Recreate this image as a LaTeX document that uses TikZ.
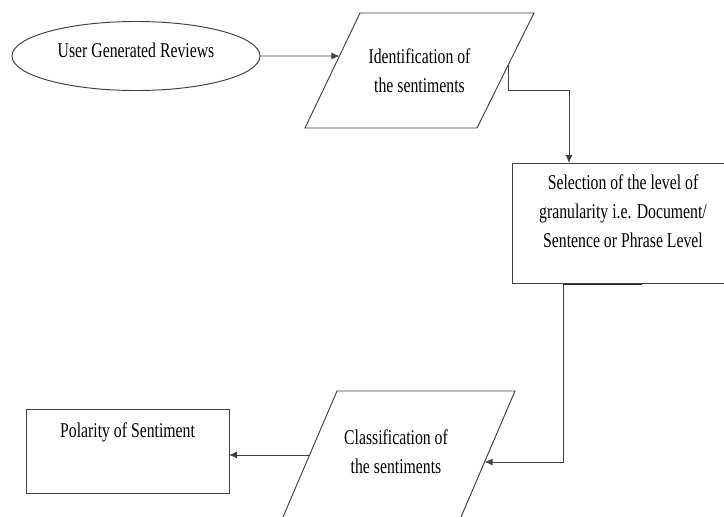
\documentclass[tikz,border=0pt]{standalone}
\usepackage{fontspec}
\setmainfont{Liberation Serif}[FakeStretch=0.75]
\usetikzlibrary{shapes.geometric,arrows.meta,calc}
\begin{document}
\begin{tikzpicture}[x=1pt,y=-1pt,
  every node/.style={font=\fontsize{21}{29}\selectfont, text=black},
  ln/.style={draw=black!75, line width=0.95pt},
  arr/.style={ln, -{Latex[length=8pt,width=7pt]}},
  txt/.style={inner sep=0pt, outer sep=0pt, align=center},
  box/.style={rectangle, ln, inner sep=0pt, outer sep=0pt, align=center},
  oval/.style={ellipse, ln, inner sep=0pt, outer sep=0pt}]
\useasboundingbox (0,0) rectangle (724,517);
% ellipse
\node[oval, minimum width=248pt, minimum height=69pt, text depth=12pt] (urev) at (136,56) {User Generated Reviews};
% parallelogram 1
\coordinate (itl) at (360,13);
\coordinate (itr) at (534,13);
\coordinate (ibr) at (477,128);
\coordinate (ibl) at (305,128);
\draw[ln, line join=miter] (itl) -- (itr) -- (ibr) -- (ibl) -- cycle;
\node[txt] (ident) at (419.5,70.5) {Identification of\\the sentiments};
% rectangle granularity
\node[box, minimum width=222pt, minimum height=120pt, text depth=24pt] (gran) at (623,223) {Selection of the level of\\granularity i.e. Document/\\Sentence or Phrase Level};
% parallelogram 2
\coordinate (ctl) at (337,391);
\coordinate (ctr) at (515,391);
\coordinate (cbr) at (455,531);
\coordinate (cbl) at (277,531);
\draw[ln, line join=miter] (ctl) -- (ctr) -- (cbr) -- (cbl) -- cycle;
\node[txt, text depth=19pt] (cls) at (396,461) {Classification of\\the sentiments};
% polarity
\node[box, minimum width=203pt, minimum height=84pt, text depth=42pt] (pol) at (127.5,451) {Polarity of Sentiment};
% connector points on slanted edges
\coordinate (d) at ($(ibl)!0.626!(itl)$);
\coordinate (a) at ($(ibr)!0.548!(itr)$);
\coordinate (b) at ($(cbr)!0.493!(ctr)$);
\coordinate (c) at ($(cbl)!0.543!(ctl)$);
\draw[arr] (urev.east) -- (d);
\draw[arr] (a) -- ++(0,25) -| ($(gran.north west)+(57,0)$);
\draw[arr] ($(gran.south west)+(51,0)$) |- (b);
\draw[draw=black!85, line width=1.4pt] ($(gran.south west)+(51,1.3)$) -- ($(gran.south west)+(130,1.3)$);
\draw[arr] (c) -- (c -| pol.east);
\end{tikzpicture}
\end{document}
